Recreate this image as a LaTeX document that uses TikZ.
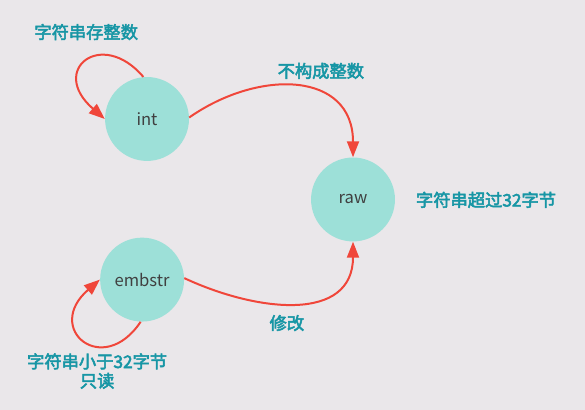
\documentclass[tikz,border=0pt]{standalone}
\usepackage{fontspec}
\setmainfont{Noto Sans CJK SC}
\newfontfamily\notefont{Noto Sans CJK SC}[FakeBold=3]
\usetikzlibrary{arrows.meta}

\definecolor{bgcol}{HTML}{EAE7EA}
\definecolor{statecol}{HTML}{9DE0D8}
\definecolor{notecol}{HTML}{1796A5}
\definecolor{linkcol}{HTML}{F0463A}
\definecolor{textcol}{HTML}{404040}

\begin{document}
\begin{tikzpicture}
    \tikzset{state/.style={fill=statecol, shape=circle, minimum size=2.22cm, inner sep=0pt,
                           text=textcol, font=\fontsize{12.5pt}{14pt}\selectfont}}
    \tikzset{note/.style={text=notecol, align=center, font=\fontsize{13pt}{14.5pt}\notefont}}
    \tikzset{link/.style={draw=linkcol, line width=1.5pt, -{Triangle[length=12pt, width=9pt]}}}

    \fill[bgcol] (0,0) rectangle (15.478,10.848);

    \draw (3.89,7.70) node (int) [state] {int};
    \draw (9.34,5.57) node (raw) [state] {raw};
    \draw (3.76,3.45) node (embstr) [state] {embstr};

    \draw (2.28,10.00) node (n1) [note] {字符串存整数};
    \draw (8.49,8.97) node (n2) [note] {不构成整数};
    \draw (12.86,5.56) node (n3) [note] {字符串超过32字节};
    \draw (2.57,1.03) node (n4) [note] {字符串小于32字节\\只读};
    \draw (7.59,2.30) node (n5) [note] {修改};

    \draw[link] (int.95) .. controls +(-1.1,1.3) and +(-1.5,1.3) .. (int.180);
    \draw[link] (int.2) to[out=35, in=90, looseness=1.3] (raw.north);
    \draw[link] (embstr.2) to[out=-25, in=-90, looseness=1.2] (raw.south);
    \draw[link] (embstr.268) .. controls +(-1.0,-1.5) and +(-1.5,-1.3) .. (embstr.180);
  \end{tikzpicture}
\end{document}
